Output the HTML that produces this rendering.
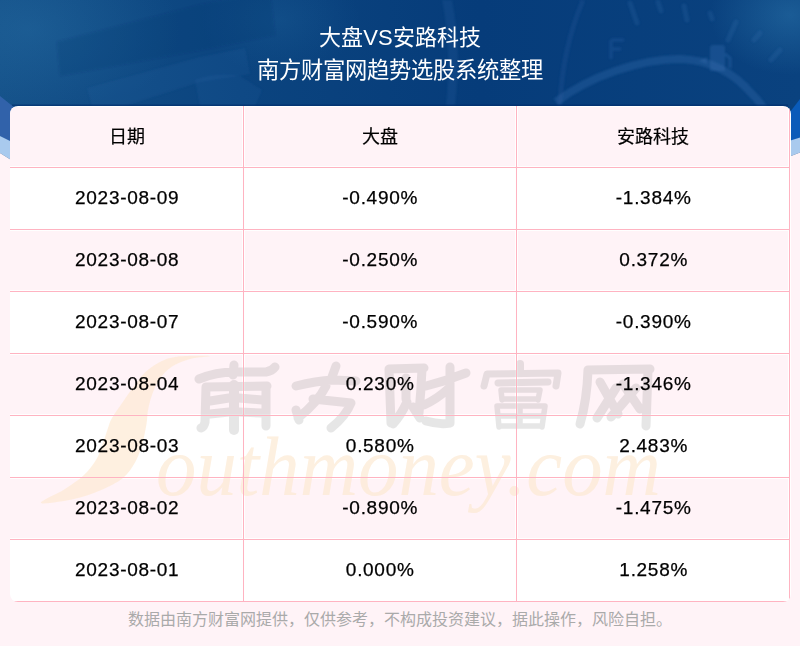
<!DOCTYPE html>
<html lang="zh-CN"><head><meta charset="utf-8">
<style>
html,body{margin:0;padding:0;}
body{width:800px;height:646px;position:relative;overflow:hidden;background:#fff3f7;font-family:"Liberation Sans",sans-serif;}
#hdr{position:absolute;left:0;top:0;width:800px;height:240px;}
.title{position:absolute;left:0;width:800px;text-align:center;color:#fff;font-size:22px;line-height:26px;white-space:nowrap;}
#card{position:absolute;left:10px;top:106px;width:781px;height:496px;background:#fff;border-radius:8px;overflow:hidden;}
.pc{position:absolute;height:59px;background:#fff3f7;}
.hl{position:absolute;left:0;width:780px;height:1px;background:#ffb3c1;}
.vl{position:absolute;top:0;width:1px;height:496px;background:#ffb3c1;}
.c{position:absolute;text-align:center;color:#000;font-size:18px;line-height:20px;white-space:nowrap;}
.c1{left:0;width:233px;}
.c2{left:233px;width:273px;}
.c3{left:506px;width:274px;}
.hd{font-size:18px;-webkit-text-stroke:0.2px #000;}
.num{letter-spacing:0.7px;padding-left:0.7px;font-size:19px;-webkit-text-stroke:0.25px #000;}
#foot{position:absolute;left:0;top:610px;width:800px;text-align:center;color:#aaaaaa;font-size:16px;line-height:20px;white-space:nowrap;}
#wm{position:absolute;left:0;top:0;width:800px;height:646px;pointer-events:none;}
</style></head>
<body>
<svg id="hdr" width="800" height="240" viewBox="0 0 800 240">
  <defs>
    <linearGradient id="bg" x1="0" y1="0" x2="1" y2="0">
      <stop offset="0" stop-color="#145088"/>
      <stop offset="0.3" stop-color="#0b447f"/>
      <stop offset="0.6" stop-color="#063c7a"/>
      <stop offset="1" stop-color="#0a427f"/>
    </linearGradient>
    <radialGradient id="glow" cx="0.5" cy="0.5" r="0.5">
      <stop offset="0" stop-color="#3a8cc0" stop-opacity="1"/>
      <stop offset="1" stop-color="#3a8cc0" stop-opacity="0"/>
    </radialGradient>
    <filter id="bl" x="-20%" y="-20%" width="140%" height="140%"><feGaussianBlur stdDeviation="1.2"/></filter>
  </defs>
  <rect x="0" y="0" width="800" height="240" fill="url(#bg)"/>
  <ellipse cx="30" cy="30" rx="150" ry="90" fill="url(#glow)" opacity="0.22"/>
  <ellipse cx="790" cy="15" rx="80" ry="60" fill="url(#glow)" opacity="0.35"/>
  <ellipse cx="280" cy="20" rx="80" ry="55" fill="url(#glow)" opacity="0.14"/>
  <g filter="url(#bl)">
    <path d="M57 42 L200 5 L270 -8 L275 35 L200 50 L60 76 Z" fill="#08336f" opacity="0.2"/>
    <path d="M87 88 L200 57 L245 48 L250 74 L200 82 L125 106 L92 106 Z" fill="#3d74b6" opacity="0.12"/>
    <path d="M195 80 Q215 72 240 76 L262 90 L255 106 L200 106 Z" fill="#3d74b6" opacity="0.12"/>
    <path d="M442 0 Q452 50 446 106 L455 106 Q462 50 452 0 Z" fill="#4d86c6" opacity="0.12"/>
    <path d="M583 0 Q562 50 560 106" fill="none" stroke="#3d74b6" stroke-width="5" opacity="0.15"/>
    <path d="M556 102 C590 76 640 59 680 59 C712 60 735 74 752 94 C760 102 765 110 768 116" fill="none" stroke="#3a70b2" stroke-width="8" opacity="0.3"/>
    <g stroke="#3d74b6" stroke-width="5" opacity="0.2" stroke-linecap="round">
      <path d="M630 3 L637 23"/><path d="M658 2 L661 11"/><path d="M684 6 L687 20"/><path d="M710 13 L712 19"/><path d="M736 22 L728 40"/><path d="M760 33 L754 40"/><path d="M780 50 L771 60"/>
    </g>
    <path d="M611 40 H624 M611 40 V59 M611 49 H621" fill="none" stroke="#3d74b6" stroke-width="3.5" opacity="0.22"/>
    <path d="M710 48 Q710 45 713 45 H722 Q725 45 725 48 V71 H710 Z" fill="#3d74b6" opacity="0.3"/><path d="M725 54 L730 58 V68" fill="none" stroke="#3d74b6" stroke-width="3" opacity="0.3"/>
    <path d="M699 61 L707 57 L707 64 Z" fill="#3d74b6" opacity="0.3"/>
  </g>
  <rect x="12" y="104.5" width="776" height="1.5" fill="#022c6c" opacity="0.6"/>
  <!-- left wave -->
  <path d="M0 96 L40 128 L40 160 L0 136 Z" fill="#3162aa"/>
  <path d="M0 136 L40 156 L40 178 L0 153 Z" fill="#a9caee"/>
  <path d="M0 153 L40 178 L40 240 L0 240 Z" fill="#fff3f7"/>
  <!-- right wave -->
  <path d="M800 99 L760 151 L760 154 L800 137.5 Z" fill="#0a5bb9"/>
  <path d="M800 137.5 L760 150 L760 168 L800 152.5 Z" fill="#a9caee"/>
  <path d="M800 152.5 L760 168 L760 240 L800 240 Z" fill="#fff3f7"/>
</svg>
<div class="title" style="top:25px;">大盘VS安路科技</div>
<div class="title" style="top:57.5px;font-size:22.3px;">南方财富网趋势选股系统整理</div>

<div id="card">
  <div class="pc" style="left:0px;top:1px;width:232px;"></div>
  <div class="pc" style="left:235px;top:1px;width:270px;"></div>
  <div class="pc" style="left:508px;top:1px;width:270px;"></div>
  <div class="pc" style="left:0px;top:125px;width:232px;"></div>
  <div class="pc" style="left:235px;top:125px;width:270px;"></div>
  <div class="pc" style="left:508px;top:125px;width:270px;"></div>
  <div class="pc" style="left:0px;top:249px;width:232px;"></div>
  <div class="pc" style="left:235px;top:249px;width:270px;"></div>
  <div class="pc" style="left:508px;top:249px;width:270px;"></div>
  <div class="pc" style="left:0px;top:373px;width:232px;"></div>
  <div class="pc" style="left:235px;top:373px;width:270px;"></div>
  <div class="pc" style="left:508px;top:373px;width:270px;"></div>
  <svg style="position:absolute;left:-10px;top:-106px;" width="800" height="646" viewBox="0 0 800 646">
    <path d="M210.0 356.0 C208.0 355.6 186.3 355.5 178.0 356.5 C169.7 357.5 165.5 359.3 160.0 362.0 C154.5 364.7 149.5 368.2 145.0 372.5 C140.5 376.8 136.8 382.5 133.0 387.5 C129.2 392.5 126.0 397.4 122.5 402.5 C119.0 407.6 114.4 413.8 112.0 418.0 C109.6 422.2 109.4 424.1 108.0 428.0 C106.6 431.9 105.4 436.3 103.5 441.5 C101.6 446.7 99.8 453.4 96.5 459.0 C93.2 464.6 89.2 470.0 84.0 475.0 C78.8 480.0 72.2 484.3 65.0 489.0 C57.8 493.7 39.5 501.3 41.0 503.0 C42.5 504.7 64.2 501.1 74.0 499.0 C83.8 496.9 91.8 494.0 100.0 490.5 C108.2 487.0 117.2 482.7 123.0 478.0 C128.8 473.3 131.8 468.0 135.0 462.5 C138.2 457.0 140.1 451.4 142.0 445.0 C143.9 438.6 145.5 429.8 146.5 424.0 C147.5 418.2 147.0 415.1 148.0 410.0 C149.0 404.9 150.5 398.8 152.5 393.5 C154.5 388.2 156.8 383.0 160.0 378.5 C163.2 374.0 167.0 369.8 172.0 366.5 C177.0 363.2 183.7 360.8 190.0 359.0 C196.3 357.2 212.0 356.4 210.0 356.0 Z" fill="#fde9d1" opacity="0.67"/>
    <text x="156" y="495" font-family="Liberation Serif" font-style="italic" font-size="84" fill="#fde9d1" opacity="0.67" textLength="505" lengthAdjust="spacingAndGlyphs">outhmoney.com</text>
    <g fill="none" stroke="#3c3c3c" opacity="0.12" stroke-width="9" stroke-linecap="round" stroke-linejoin="round">
      <!-- 南 -->
      <path d="M234 365 L233 375 M199 379 Q216 372 234 372 L266 372 Q272 371 275 367 M206 387 L267 386 M206 387 L205 422 Q204 427 201 428 M266 387 L266 426 M210 401 L229 398 M239 398 L262 400 M210 414 L229 412 M239 412 L262 413"/>
      <path d="M234 385 L234 430" stroke-width="10"/>
      <!-- 方 -->
      <path d="M336 366 L332 377 M296 386 Q316 381 333 380 L356 381 M326 386 Q318 402 298 418 M296 410 L299 420 M313 399 L351 403 Q346 416 331 428"/>
      <!-- 财 -->
      <path d="M389 369 L391 423 M389 369 L424 368 M422 369 Q421 392 419 413 M406 378 L406 399 M407 402 Q401 415 393 424 M413 407 L420 418 M426 386 Q446 381 466 373 M450 367 L450 423 Q440 425 426 421 M448 389 Q437 399 424 405"/>
      <!-- 富 -->
      <path d="M520 364 L520 370" stroke-width="8"/>
      <path d="M484 386 L487 374 L558 373 L556 386 M498 383 L548 382" stroke-width="7"/>
      <path d="M501 390 L540 390 M501 390 L502 400 M540 390 L538 400 M502 399 L538 399 M497 406 L545 406 M497 406 L499 427 M545 406 L542 427 M499 426 L542 426 M499 416 L543 416 M520 406 L520 426" stroke-width="5.5"/>
      <!-- 网 -->
      <path d="M588 370 Q587 400 580 424 M588 370 L650 369 M648 370 L646 426 M600 382 L618 414 M616 388 L597 418 M623 384 L640 409 M636 388 L611 417"/>
    </g>
  </svg>
  <div class="hl" style="top:61px;"></div>
  <div class="hl" style="top:123px;"></div>
  <div class="hl" style="top:185px;"></div>
  <div class="hl" style="top:247px;"></div>
  <div class="hl" style="top:309px;"></div>
  <div class="hl" style="top:371px;"></div>
  <div class="hl" style="top:433px;"></div>
  <div class="hl" style="top:495px;"></div>
  <div class="vl" style="left:233px;"></div>
  <div class="vl" style="left:506px;"></div>
  <div class="vl" style="left:779px;"></div>



  <div class="c c1 hd" style="top:21px;">日期</div>
  <div class="c c2 hd" style="top:21px;">大盘</div>
  <div class="c c3 hd" style="top:21px;">安路科技</div>

  <div class="c c1 num" style="top:82px;">2023-08-09</div>
  <div class="c c2 num" style="top:82px;">-0.490%</div>
  <div class="c c3 num" style="top:82px;">-1.384%</div>

  <div class="c c1 num" style="top:144px;">2023-08-08</div>
  <div class="c c2 num" style="top:144px;">-0.250%</div>
  <div class="c c3 num" style="top:144px;">0.372%</div>

  <div class="c c1 num" style="top:206px;">2023-08-07</div>
  <div class="c c2 num" style="top:206px;">-0.590%</div>
  <div class="c c3 num" style="top:206px;">-0.390%</div>

  <div class="c c1 num" style="top:268px;">2023-08-04</div>
  <div class="c c2 num" style="top:268px;">0.230%</div>
  <div class="c c3 num" style="top:268px;">-1.346%</div>

  <div class="c c1 num" style="top:330px;">2023-08-03</div>
  <div class="c c2 num" style="top:330px;">0.580%</div>
  <div class="c c3 num" style="top:330px;">2.483%</div>

  <div class="c c1 num" style="top:392px;">2023-08-02</div>
  <div class="c c2 num" style="top:392px;">-0.890%</div>
  <div class="c c3 num" style="top:392px;">-1.475%</div>

  <div class="c c1 num" style="top:454px;">2023-08-01</div>
  <div class="c c2 num" style="top:454px;">0.000%</div>
  <div class="c c3 num" style="top:454px;">1.258%</div>

</div>

<div id="foot">数据由南方财富网提供，仅供参考，不构成投资建议，据此操作，风险自担。</div>
</body></html>
